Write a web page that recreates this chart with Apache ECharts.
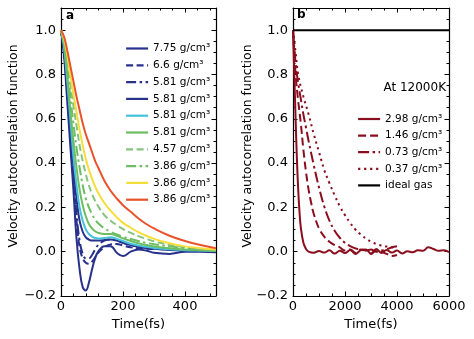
<!DOCTYPE html>
<html>
<head>
<meta charset="utf-8">
<script src="https://cdn.jsdelivr.net/npm/echarts@6/dist/echarts.min.js"></script>
<style>html,body{margin:0;padding:0;background:#fff}#c{width:474px;height:339px}</style>
</head>
<body>
<div id="c"></div>
<script>
// ---------- Panel a data ----------
const timeA = [0,10,20,30,40,50,60,70,80,90,100,110,120,140,160,180,200,225,250,275,300,350,400,450,500];
const a775 = [1,0.88,0.68,0.48,0.28,0.06,-0.08,-0.16,-0.175,-0.14,-0.08,-0.03,0.0,0.025,0.025,-0.005,-0.02,0.0,0.01,0.005,-0.005,-0.01,0.0,0.0,-0.003];
const a66 = [1,0.9,0.72,0.52,0.32,0.14,0.02,-0.03,-0.05,-0.055,-0.045,-0.025,-0.005,0.02,0.033,0.035,0.028,0.02,0.015,0.013,0.012,0.01,0.006,0.004,0.003];
const a581dd = [1,0.9,0.73,0.54,0.35,0.17,0.05,-0.01,-0.03,-0.03,-0.015,0.01,0.03,0.05,0.055,0.05,0.04,0.03,0.022,0.018,0.015,0.01,0.007,0.004,0.003];
const a581n = [1,0.91,0.75,0.57,0.39,0.24,0.14,0.09,0.065,0.055,0.05,0.05,0.05,0.053,0.055,0.05,0.04,0.03,0.022,0.017,0.013,0.008,0.005,0.003,0.002];
const a581c = [1,0.92,0.77,0.6,0.43,0.3,0.2,0.14,0.1,0.08,0.068,0.062,0.06,0.062,0.065,0.058,0.048,0.036,0.028,0.022,0.017,0.011,0.007,0.005,0.003];
const a581g = [1,0.93,0.8,0.64,0.5,0.38,0.28,0.21,0.16,0.125,0.105,0.092,0.085,0.08,0.08,0.072,0.06,0.048,0.038,0.03,0.024,0.015,0.01,0.006,0.004];
const a457 = [1,0.95,0.86,0.76,0.66,0.57,0.48,0.41,0.35,0.3,0.26,0.23,0.205,0.165,0.14,0.12,0.102,0.085,0.07,0.058,0.047,0.031,0.02,0.013,0.008];
const a386dd = [1,0.94,0.83,0.7,0.58,0.47,0.38,0.3,0.24,0.2,0.17,0.145,0.128,0.105,0.09,0.078,0.068,0.057,0.048,0.04,0.034,0.024,0.016,0.01,0.006];
const a386y = [1,0.96,0.89,0.8,0.71,0.63,0.55,0.48,0.42,0.37,0.33,0.295,0.265,0.22,0.185,0.155,0.13,0.108,0.088,0.072,0.058,0.038,0.024,0.016,0.01];
const a386o = [1,0.97,0.91,0.84,0.77,0.7,0.64,0.58,0.53,0.49,0.45,0.41,0.38,0.32,0.275,0.24,0.21,0.18,0.15,0.125,0.105,0.072,0.048,0.03,0.016];
const labelsA = ['7.75 g/cm³','6.6 g/cm³','5.81 g/cm³','5.81 g/cm³','5.81 g/cm³','5.81 g/cm³','4.57 g/cm³','3.86 g/cm³','3.86 g/cm³','3.86 g/cm³'];

// ---------- Panel b data ----------
const tB298 = [0,50,100,150,200,250,300,400,500,600,800,1000,1200,1400,1600,1800,2000,2200,2400,2600,2800,3000,3200,3400,3600,3800,4000,4200,4400,4600,4800,5000,5200,5400,5600,5800,6000];
const b298 = [1,0.8,0.6,0.42,0.28,0.18,0.11,0.04,0.012,0.0,-0.005,0.003,-0.004,0.006,-0.008,0.004,-0.006,0.008,-0.01,0.006,0.01,-0.008,0.012,-0.006,0.008,-0.004,0.005,-0.008,0.002,-0.003,0.006,0.004,0.02,0.012,0.004,0.006,-0.002];
const tB146 = [0,100,200,300,400,500,600,700,800,1000,1200,1400,1600,1800,2000,2200,2400,2600,2800,3000,3200,3400,3600,3800,4000];
const b146 = [1,0.8,0.68,0.58,0.46,0.36,0.28,0.22,0.17,0.105,0.068,0.045,0.03,0.02,0.005,0.01,-0.005,0.01,0.005,-0.01,0.005,0.0,-0.01,-0.02,-0.015];
const tB073 = [0,100,200,300,400,500,600,800,1000,1200,1400,1600,1800,2000,2200,2400,2600,2800,3000,3200,3400,3600,3800,4000];
const b073 = [1,0.85,0.76,0.69,0.62,0.56,0.5,0.39,0.29,0.205,0.14,0.095,0.063,0.04,0.025,0.015,0.01,0.005,0.01,0.0,0.005,0.01,0.02,0.025];
const tB037 = [0,100,200,400,600,800,1000,1200,1400,1600,1800,2000,2200,2400,2600,2800,3000,3200,3400,3600,3800,4000];
const b037 = [1,0.9,0.8,0.7,0.62,0.53,0.45,0.37,0.31,0.255,0.205,0.165,0.13,0.1,0.078,0.06,0.045,0.035,0.028,0.023,0.02,0.018];
const tIdeal = [0,6000];
const bIdeal = [1,1];
const labelsB = ['2.98 g/cm³','1.46 g/cm³','0.73 g/cm³','0.37 g/cm³','ideal gas'];

// ---------- Ticks ----------
const yMajor = [-0.2,0,0.2,0.4,0.6,0.8,1.0];
const yMinor = [-0.15,-0.1,-0.05,0.05,0.1,0.15,0.25,0.3,0.35,0.45,0.5,0.55,0.65,0.7,0.75,0.85,0.9,0.95,1.05];
const xMajorA = [0,200,400];
const xMinorA = [40,80,120,160,240,280,320,360,440,480];
const xMajorB = [0,2000,4000,6000];
const xMinorB = [500,1000,1500,2500,3000,3500,4500,5000,5500];

const FONT = 'DejaVu Sans';
const pairs = (t, v) => t.map((x, i) => [x, v[i]]);
const fmtY = v => (v < 0 ? '\u2212' + Math.abs(v).toFixed(1) : v.toFixed(1));
const fmtX = v => String(Math.round(v));

function xAx(grid, pos, min, max, vals, major, withLabel, name) {
  return {
    type: 'value', gridIndex: grid, position: pos, min: min, max: max,
    name: name || '', nameLocation: 'middle', nameGap: 20,
    nameTextStyle: {fontFamily: FONT, fontSize: 13, color: '#000'},
    axisLine: {show: major, onZero: false, lineStyle: {color: '#000', width: 1.2}},
    axisTick: {show: true, inside: true, length: major ? 4.5 : 2.5, customValues: vals, lineStyle: {color: '#000', width: 1}},
    axisLabel: {show: withLabel, customValues: vals, formatter: fmtX, fontFamily: FONT, fontSize: 13, color: '#000', margin: 4},
    splitLine: {show: false}
  };
}
function yAx(grid, pos, vals, major, withLabel) {
  return {
    type: 'value', gridIndex: grid, position: pos, min: -0.2, max: 1.1,
    axisLine: {show: major, onZero: false, lineStyle: {color: '#000', width: 1.2}},
    axisTick: {show: true, inside: true, length: major ? 4.5 : 2.5, customValues: vals, lineStyle: {color: '#000', width: 1}},
    axisLabel: {show: withLabel, customValues: vals, formatter: fmtY, fontFamily: FONT, fontSize: 13, color: '#000', margin: 5},
    splitLine: {show: false}
  };
}

const NAVY = '#28318c', CYAN = '#45c3db', GREEN = '#6dbd62', GREEN2 = '#86c37f', YEL = '#f5de3a', ORG = '#e8532b', RED = '#8a0e1e';

function ser(name, x, y, t, v, color, type, w) {
  return {
    name: name, type: 'line', xAxisIndex: x, yAxisIndex: y, data: pairs(t, v),
    showSymbol: false, symbol: 'none', smooth: 0.4, animation: false,
    lineStyle: {color: color, width: w || 2, type: type || 'solid'},
    itemStyle: {color: color}
  };
}

const seriesA = [
  ser('a0', 0, 0, timeA, a775, NAVY, 'solid'),
  ser('a1', 0, 0, timeA, a66, NAVY, [7, 3.5]),
  ser('a2', 0, 0, timeA, a581dd, NAVY, [10, 3.5, 2.5, 3.5]),
  ser('a3', 0, 0, timeA, a581n, NAVY, 'solid'),
  ser('a4', 0, 0, timeA, a581c, CYAN, 'solid'),
  ser('a5', 0, 0, timeA, a581g, GREEN, 'solid'),
  ser('a6', 0, 0, timeA, a457, GREEN2, [7, 3.5]),
  ser('a7', 0, 0, timeA, a386dd, GREEN, [10, 3.5, 2.5, 3.5]),
  ser('a8', 0, 0, timeA, a386y, YEL, 'solid'),
  ser('a9', 0, 0, timeA, a386o, ORG, 'solid')
];
const seriesB = [
  ser('b0', 4, 4, tB298, b298, RED, 'solid'),
  ser('b1', 4, 4, tB146, b146, RED, [8, 4]),
  ser('b2', 4, 4, tB073, b073, RED, [11, 3.5, 2.5, 3.5]),
  ser('b3', 4, 4, tB037, b037, RED, [2.2, 3.8]),
  ser('b4', 4, 4, tIdeal, bIdeal, '#000', 'solid')
];
const namesA = seriesA.map(s => s.name);
const namesB = seriesB.map(s => s.name);
const labelOf = n => (n[0] === 'a' ? labelsA : labelsB)[+n.slice(1)];

const legendCommon = {
  orient: 'vertical', itemWidth: 22, itemHeight: 12, padding: 0,
  formatter: labelOf, selectedMode: false,
  itemStyle: {opacity: 0, borderWidth: 0},
  lineStyle: {width: 2.2},
  textStyle: {fontFamily: FONT, fontSize: 10.5, color: '#000', lineHeight: 12}
};

const chart = echarts.init(document.getElementById('c'), null, {renderer: 'canvas'});
chart.setOption({
  animation: false,
  backgroundColor: '#fff',
  grid: [
    {left: 61, top: 8, width: 155, height: 288},
    {left: 293, top: 8, width: 156, height: 288}
  ],
  xAxis: [
    xAx(0, 'bottom', 0, 500, xMajorA, true, true, 'Time(fs)'),
    xAx(0, 'bottom', 0, 500, xMinorA, false, false),
    xAx(0, 'top', 0, 500, xMajorA, true, false),
    xAx(0, 'top', 0, 500, xMinorA, false, false),
    xAx(1, 'bottom', 0, 6000, xMajorB, true, true, 'Time(fs)'),
    xAx(1, 'bottom', 0, 6000, xMinorB, false, false),
    xAx(1, 'top', 0, 6000, xMajorB, true, false),
    xAx(1, 'top', 0, 6000, xMinorB, false, false)
  ],
  yAxis: [
    yAx(0, 'left', yMajor, true, true),
    yAx(0, 'left', yMinor, false, false),
    yAx(0, 'right', yMajor, true, false),
    yAx(0, 'right', yMinor, false, false),
    yAx(1, 'left', yMajor, true, true),
    yAx(1, 'left', yMinor, false, false),
    yAx(1, 'right', yMajor, true, false),
    yAx(1, 'right', yMinor, false, false)
  ],
  legend: [
    Object.assign({}, legendCommon, {data: namesA, left: 125, top: 42.5, itemGap: 4.8}),
    Object.assign({}, legendCommon, {data: namesB, left: 357, top: 113, itemGap: 4.6})
  ],
  graphic: [
    {type: 'text', x: 14, y: 146, rotation: Math.PI / 2,
     style: {text: 'Velocity autocorrelation function', font: '12.5px "DejaVu Sans"', fill: '#000', textAlign: 'center', textVerticalAlign: 'middle'}},
    {type: 'text', x: 248, y: 146, rotation: Math.PI / 2,
     style: {text: 'Velocity autocorrelation function', font: '12.5px "DejaVu Sans"', fill: '#000', textAlign: 'center', textVerticalAlign: 'middle'}},
    {type: 'text', x: 66, y: 16,
     style: {text: 'a', font: 'bold 12px "DejaVu Sans"', fill: '#000', textAlign: 'left', textVerticalAlign: 'middle'}},
    {type: 'text', x: 297, y: 15,
     style: {text: 'b', font: 'bold 12px "DejaVu Sans"', fill: '#000', textAlign: 'left', textVerticalAlign: 'middle'}},
    {type: 'text', x: 446, y: 88,
     style: {text: 'At 12000K', font: '12px "DejaVu Sans"', fill: '#000', textAlign: 'right', textVerticalAlign: 'middle'}}
  ],
  series: seriesA.concat(seriesB)
});
</script>
</body>
</html>
